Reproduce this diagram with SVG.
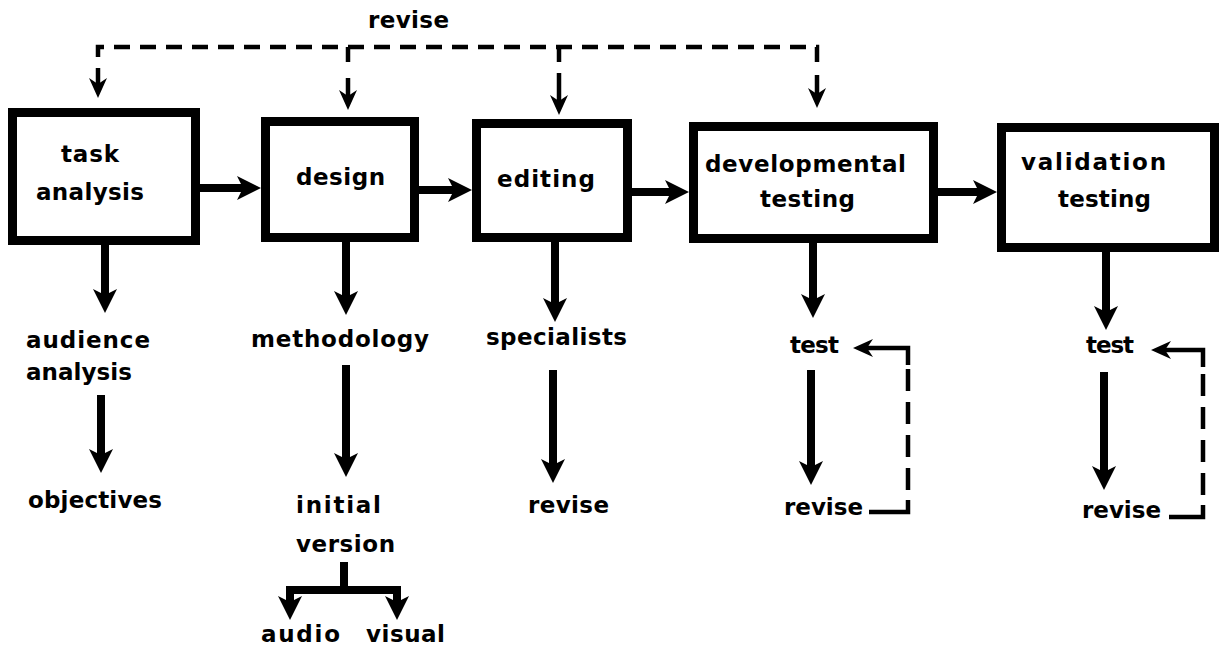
<svg xmlns="http://www.w3.org/2000/svg" width="1225" height="653" viewBox="0 0 1225 653">
<style>
.bg{fill:#fff}
.box{fill:#fff;stroke:#000;stroke-width:9}
.t{font-family:"DejaVu Sans","Liberation Sans",Arial,sans-serif;font-weight:bold;font-size:23px;fill:#000}
.a{fill:none;stroke:#000;stroke-width:8}
.d{fill:none;stroke:#000;stroke-width:4.5;stroke-dasharray:16 10}
.dv{fill:none;stroke:#000;stroke-width:4.5;stroke-dasharray:22 11}
.s{fill:none;stroke:#000;stroke-width:4.5}
</style>
<defs>
<marker id="big" markerUnits="userSpaceOnUse" markerWidth="26" markerHeight="26" viewBox="0 0 26 26" refX="8" refY="13" orient="auto">
<path d="M0,1 L24,13 L0,25 L6,13 Z" fill="#000"/>
</marker>
<marker id="small" markerUnits="userSpaceOnUse" markerWidth="22" markerHeight="22" viewBox="0 0 22 22" refX="12" refY="11" orient="auto">
<path d="M0,2 L20,11 L0,20 L6,11 Z" fill="#000"/>
</marker>
</defs>
<rect class="bg" x="0" y="0" width="1225" height="653"/>

<g id="connectors">
<!-- top revise loop -->
<path class="d" d="M98,57 V47 H817 V62"/>
<path class="s" d="M348,47 V62"/>
<path class="s" d="M559,47 V62"/>
<path class="s" d="M98,68 V90" marker-end="url(#small)"/>
<path class="s" d="M348,78 V102" marker-end="url(#small)"/>
<path class="s" d="M559,73 V107" marker-end="url(#small)"/>
<path class="s" d="M817,75 V100" marker-end="url(#small)"/>
<!-- horizontal flow -->
<path class="a" d="M200,188 H245" marker-end="url(#big)"/>
<path class="a" d="M419,190 H456" marker-end="url(#big)"/>
<path class="a" d="M632,192 H673" marker-end="url(#big)"/>
<path class="a" d="M938,192 H981" marker-end="url(#big)"/>
<!-- down from boxes -->
<path class="a" d="M105,245 V297" marker-end="url(#big)"/>
<path class="a" d="M346,242 V299" marker-end="url(#big)"/>
<path class="a" d="M555,242 V306" marker-end="url(#big)"/>
<path class="a" d="M813,243 V302" marker-end="url(#big)"/>
<path class="a" d="M1106,252 V314" marker-end="url(#big)"/>
<!-- second level -->
<path class="a" d="M101,395 V457" marker-end="url(#big)"/>
<path class="a" d="M346,365 V461" marker-end="url(#big)"/>
<path class="a" d="M553,370 V467" marker-end="url(#big)"/>
<path class="a" d="M811,370 V469" marker-end="url(#big)"/>
<path class="a" d="M1104,372 V474" marker-end="url(#big)"/>
<!-- initial version branch -->
<path class="a" d="M344,562 V590"/>
<path class="a" d="M286,590 H401"/>
<path class="a" d="M290,586 V604" marker-end="url(#big)"/>
<path class="a" d="M397,586 V604" marker-end="url(#big)"/>
<!-- developmental testing loop -->
<path class="s" d="M869,512 H908 V500"/>
<path class="dv" d="M908,490 V365"/>
<path class="s" d="M908,365 V348 H861" marker-end="url(#small)"/>
<!-- validation testing loop -->
<path class="s" d="M1169,517 H1203 V505"/>
<path class="dv" d="M1203,495 V367"/>
<path class="s" d="M1203,367 V350 H1159" marker-end="url(#small)"/>
</g>

<g id="task-analysis">
<rect class="box" x="12.5" y="112.5" width="183" height="128"/>
<text class="t" x="61" y="162" textLength="58">task</text>
<text class="t" x="36" y="200" textLength="108">analysis</text>
</g>
<g id="design">
<rect class="box" x="265.5" y="121.5" width="149" height="116"/>
<text class="t" x="296" y="185" textLength="89">design</text>
</g>
<g id="editing">
<rect class="box" x="476.5" y="123.5" width="151" height="114"/>
<text class="t" x="497" y="187" textLength="98">editing</text>
</g>
<g id="developmental-testing">
<rect class="box" x="693.5" y="126.5" width="240" height="112"/>
<text class="t" x="705" y="172" textLength="201">developmental</text>
<text class="t" x="760" y="207" textLength="95">testing</text>
</g>
<g id="validation-testing">
<rect class="box" x="1001.5" y="127.5" width="213" height="120"/>
<text class="t" x="1021" y="170" textLength="145">validation</text>
<text class="t" x="1058" y="207" textLength="93">testing</text>
</g>

<g id="revise-top"><text class="t" x="368" y="28" textLength="81">revise</text></g>
<g id="audience-analysis">
<text class="t" x="26" y="348" textLength="124">audience</text>
<text class="t" x="26" y="380" textLength="106">analysis</text>
</g>
<g id="objectives"><text class="t" x="28" y="508" textLength="134">objectives</text></g>
<g id="methodology"><text class="t" x="251" y="347" textLength="178">methodology</text></g>
<g id="initial-version">
<text class="t" x="296" y="513" textLength="85">initial</text>
<text class="t" x="296" y="552" textLength="99">version</text>
</g>
<g id="audio"><text class="t" x="261" y="642" textLength="79">audio</text></g>
<g id="visual"><text class="t" x="366" y="642" textLength="79">visual</text></g>
<g id="specialists"><text class="t" x="486" y="345" textLength="141">specialists</text></g>
<g id="revise-editing"><text class="t" x="528" y="513" textLength="81">revise</text></g>
<g id="test-dev"><text class="t" x="790" y="353" textLength="49">test</text></g>
<g id="revise-dev"><text class="t" x="784" y="515" textLength="79">revise</text></g>
<g id="test-val"><text class="t" x="1086" y="353" textLength="48">test</text></g>
<g id="revise-val"><text class="t" x="1082" y="518" textLength="79">revise</text></g>
</svg>
